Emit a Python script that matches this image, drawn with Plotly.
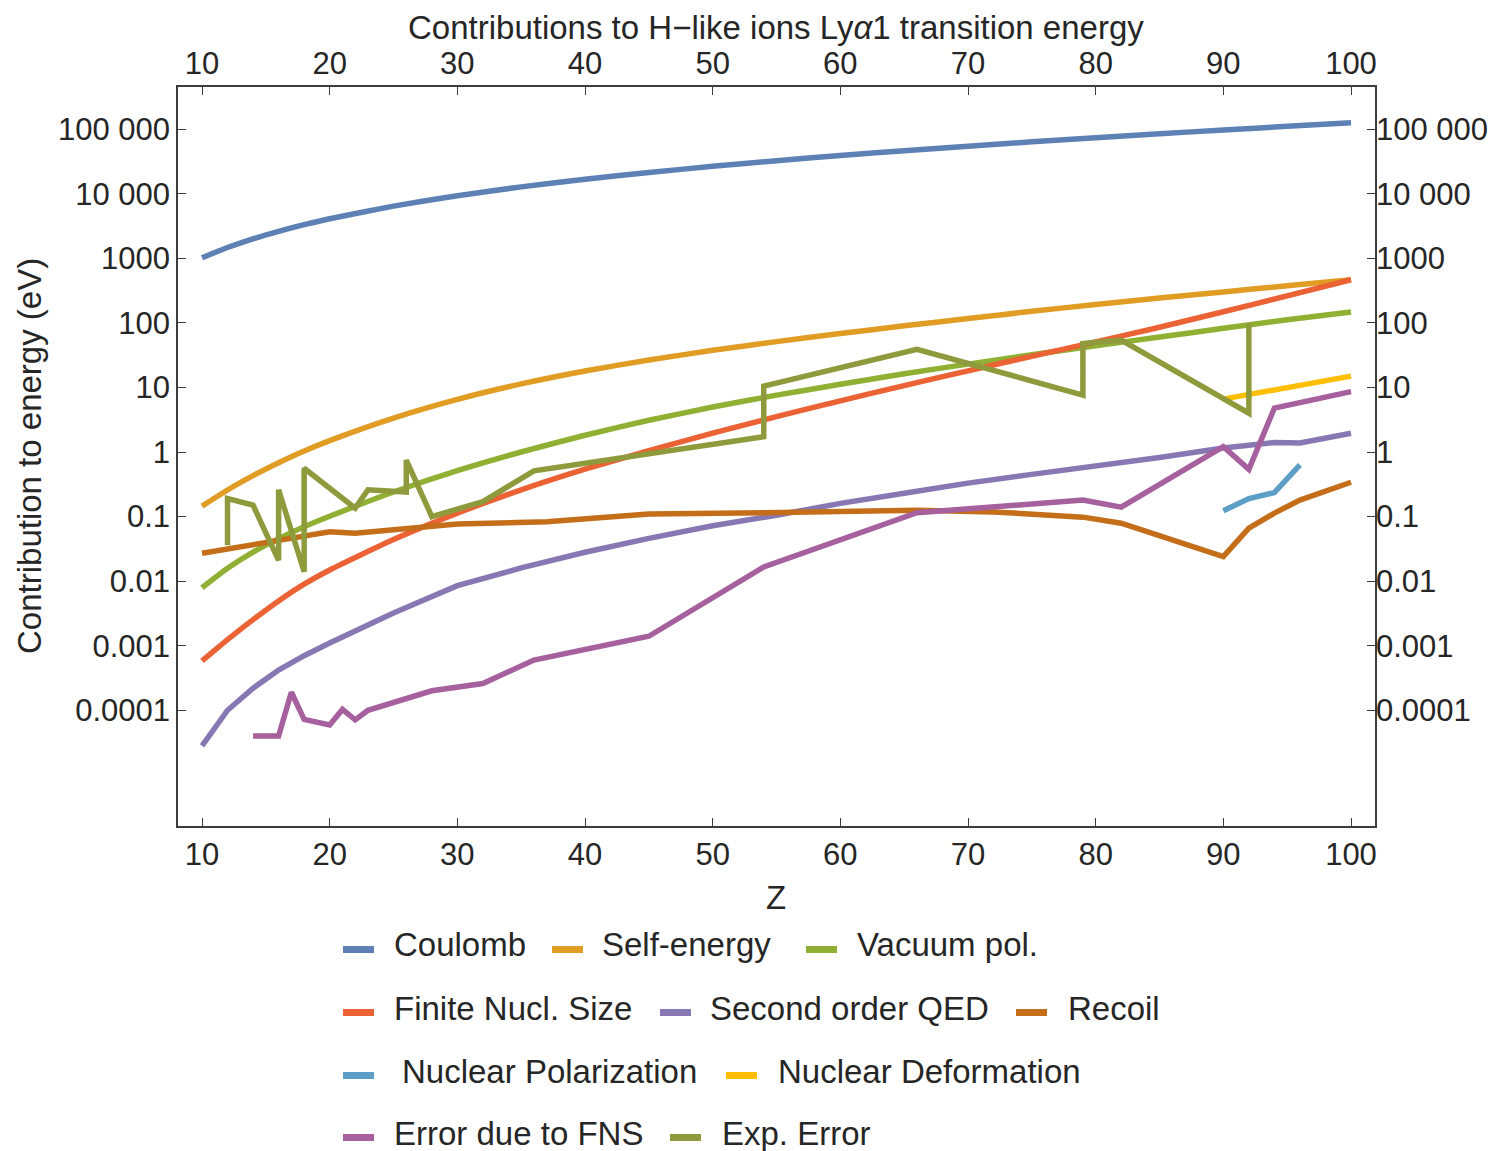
import plotly.graph_objects as go

# ---------------- data (energies in eV vs nuclear charge Z) ----------------
z_smooth = [10, 12, 14, 16, 18, 20, 25, 30, 35, 40, 45, 50, 55, 60, 65, 70, 75, 80, 85, 90, 95, 100]

coulomb = [1022, 1472, 2005, 2620, 3320, 4110, 6430, 9330, 12800, 16800, 21400, 26600,
           32500, 39200, 46500, 54700, 63800, 73900, 85000, 97300, 111000, 126400]

self_energy = [0.145, 0.258, 0.43, 0.68, 1.035, 1.50, 3.35, 6.53, 11.35, 18.0, 26.6, 37.6,
               51.3, 68.4, 90, 117, 151, 193, 243, 302, 376, 468]

vacuum_pol = [0.0079, 0.0158, 0.0281, 0.0455, 0.0695, 0.101, 0.24, 0.514, 1.0, 1.82, 3.1, 4.97,
              7.6, 11.2, 16.3, 23, 32, 44.3, 60.4, 82.4, 112, 148]

finite_size = [0.00058, 0.00124, 0.00253, 0.00493, 0.00897, 0.0149, 0.044, 0.113, 0.259, 0.541,
               1.05, 1.96, 3.53, 6.21, 10.7, 18.1, 30.4, 50.5, 85.7, 149, 262, 466]

z_qed = [10, 12, 14, 16, 18, 20, 25, 30, 35, 40, 45, 50, 55, 60, 65, 70, 75, 80, 85, 90, 92, 94, 96, 100]
qed2 = [2.8e-5, 1.0e-4, 2.2e-4, 4.2e-4, 7.0e-4, 1.1e-3, 3.2e-3, 8.5e-3, 0.016, 0.028, 0.046,
        0.072, 0.105, 0.16, 0.23, 0.33, 0.45, 0.60, 0.82, 1.15, 1.3, 1.4, 1.38, 1.95]

z_recoil = [10, 20, 22, 24, 28, 30, 37, 45, 54, 66, 72, 79, 82, 90, 92, 94, 96, 100]
recoil = [0.027, 0.058, 0.055, 0.060, 0.072, 0.077, 0.083, 0.11, 0.115, 0.125, 0.118,
          0.098, 0.079, 0.024, 0.066, 0.113, 0.18, 0.34]

z_npol = [90, 92, 94, 96]
nuc_pol = [0.123, 0.19, 0.235, 0.63]

z_ndef = [90, 100]
nuc_def = [6.6, 15]

z_fns_err = [14, 16, 17, 18, 20, 21, 22, 23, 28, 32, 36, 45, 54, 66, 79, 82, 90, 92, 94, 100]
fns_err = [4.0e-5, 4.0e-5, 1.9e-4, 7.2e-5, 5.9e-5, 1.03e-4, 7.1e-5, 1.0e-4, 2.0e-4, 2.6e-4,
           6.0e-4, 1.4e-3, 0.0166, 0.115, 0.18, 0.14, 1.21, 0.54, 4.8, 8.6]

z_exp_err = [12, 12, 14, 16, 16, 18, 18, 22, 23, 26, 26, 28, 32, 36, 54, 54, 66, 79, 79, 82, 92, 92]
exp_err = [0.036, 0.19, 0.15, 0.021, 0.26, 0.014, 0.56, 0.135, 0.26, 0.24, 0.75, 0.10, 0.17,
           0.51, 1.73, 10.5, 39, 7.6, 48, 54, 4.0, 98]

x_ticks = [10, 20, 30, 40, 50, 60, 70, 80, 90, 100]
y_ticks = [1e5, 1e4, 1e3, 1e2, 1e1, 1, 0.1, 0.01, 0.001, 0.0001]
y_tick_text = ["100 000", "10 000", "1000", "100", "10", "1", "0.1", "0.01", "0.001", "0.0001"]

# ---------------- series: (name, z, values, colour) ----------------
series = [
    ("Coulomb", z_smooth, coulomb, "#5E81B5"),
    ("Self-energy", z_smooth, self_energy, "#E19C24"),
    ("Vacuum pol.", z_smooth, vacuum_pol, "#8FB032"),
    ("Finite Nucl. Size", z_smooth, finite_size, "#EB6235"),
    ("Second order QED", z_qed, qed2, "#8778B3"),
    ("Recoil", z_recoil, recoil, "#C56E1A"),
    ("Nuclear Polarization", z_npol, nuc_pol, "#5D9EC7"),
    ("Nuclear Deformation", z_ndef, nuc_def, "#FFBF00"),
    ("Error due to FNS", z_fns_err, fns_err, "#A5609D"),
    ("Exp. Error", z_exp_err, exp_err, "#8E9A3B"),
]
smooth_names = {"Coulomb", "Self-energy", "Vacuum pol.", "Finite Nucl. Size"}

W, H = 1499, 1151
L, R, T, B = 178, 1375, 87, 826   # plot-area box in pixels
FONT = "Liberation Sans, Arial, sans-serif"
TXT = "#262626"
FRAME = "#3c3c3c"

fig = go.Figure()
for name, zs, vs, col in series:
    fig.add_trace(go.Scatter(
        x=zs, y=vs, mode="lines", name=name, showlegend=False,
        line=dict(color=col, width=5.5,
                  shape="spline" if name in smooth_names else "linear",
                  smoothing=0.5),
        xaxis="x", yaxis="y"))

# transparent copy on the mirrored axes so the top/right tick labels are drawn
fig.add_trace(go.Scatter(x=z_smooth, y=coulomb, mode="lines", showlegend=False,
                         hoverinfo="skip", opacity=0, line=dict(width=0),
                         xaxis="x2", yaxis="y2"))

x_range = [10 - 24 / 12.767, 100 + 24 / 12.767]
y_range = [-5.793, 5.654]

common_x = dict(range=x_range, tickvals=x_ticks, ticks="inside", ticklen=8,
                tickwidth=1.2, tickcolor=FRAME, showgrid=False, zeroline=False,
                automargin=False,
                tickfont=dict(family=FONT, size=31, color=TXT))
common_y = dict(type="log", range=y_range, tickvals=y_ticks, ticktext=y_tick_text,
                ticks="inside", ticklen=8, tickwidth=1.2, tickcolor=FRAME,
                showgrid=False, zeroline=False, automargin=False,
                tickfont=dict(family=FONT, size=31, color=TXT))

fig.update_layout(
    width=W, height=H, autosize=False,
    margin=dict(l=L, r=W - R, t=T, b=H - B, pad=0),
    paper_bgcolor="white", plot_bgcolor="white",
    xaxis=dict(**common_x, side="bottom", showline=True, linecolor=FRAME,
               linewidth=1.5, mirror=True),
    yaxis=dict(**common_y, side="left", showline=True, linecolor=FRAME,
               linewidth=1.5, mirror=True),
    xaxis2=dict(**common_x, side="top", overlaying="x", anchor="y",
                ticklabelstandoff=6),
    yaxis2=dict(**common_y, side="right", overlaying="y", anchor="x"),
)


def px_x(p):
    return (p - L) / (R - L)


def px_y(p):
    return (B - p) / (B - T)


annotations = [
    dict(text="Contributions to H\u2212like ions Ly<i>\u03b1</i>1 transition energy",
         x=px_x(776), y=px_y(27), xanchor="center", yanchor="middle"),
    dict(text="Z", x=px_x(776), y=px_y(897), xanchor="center", yanchor="middle"),
    dict(text="Contribution to energy (eV)", x=px_x(30), y=px_y(456),
         xanchor="center", yanchor="middle", textangle=-90),
]

# legend laid out in four rows under the plot
legend_rows = [
    (945, [("Coulomb", 343, 392), ("Self-energy", 552, 600), ("Vacuum pol.", 806, 855)]),
    (1008, [("Finite Nucl. Size", 343, 392), ("Second order QED", 660, 708), ("Recoil", 1016, 1066)]),
    (1071, [("Nuclear Polarization", 343, 400), ("Nuclear Deformation", 726, 776)]),
    (1133, [("Error due to FNS", 343, 392), ("Exp. Error", 670, 720)]),
]
colour_of = {name: col for name, _, _, col in series}
shapes = []
for ty, items in legend_rows:
    for name, sx, tx in items:
        shapes.append(dict(type="rect", xref="paper", yref="paper",
                           x0=px_x(sx), x1=px_x(sx + 31),
                           y0=px_y(ty + 8), y1=px_y(ty + 1),
                           fillcolor=colour_of[name], line=dict(width=0)))
        annotations.append(dict(text=name, x=px_x(tx), y=px_y(ty),
                                xanchor="left", yanchor="middle"))

for a in annotations:
    a.update(xref="paper", yref="paper", showarrow=False,
             font=dict(family=FONT, size=33, color=TXT))

fig.update_layout(annotations=annotations, shapes=shapes)

fig.write_html("out.html")
